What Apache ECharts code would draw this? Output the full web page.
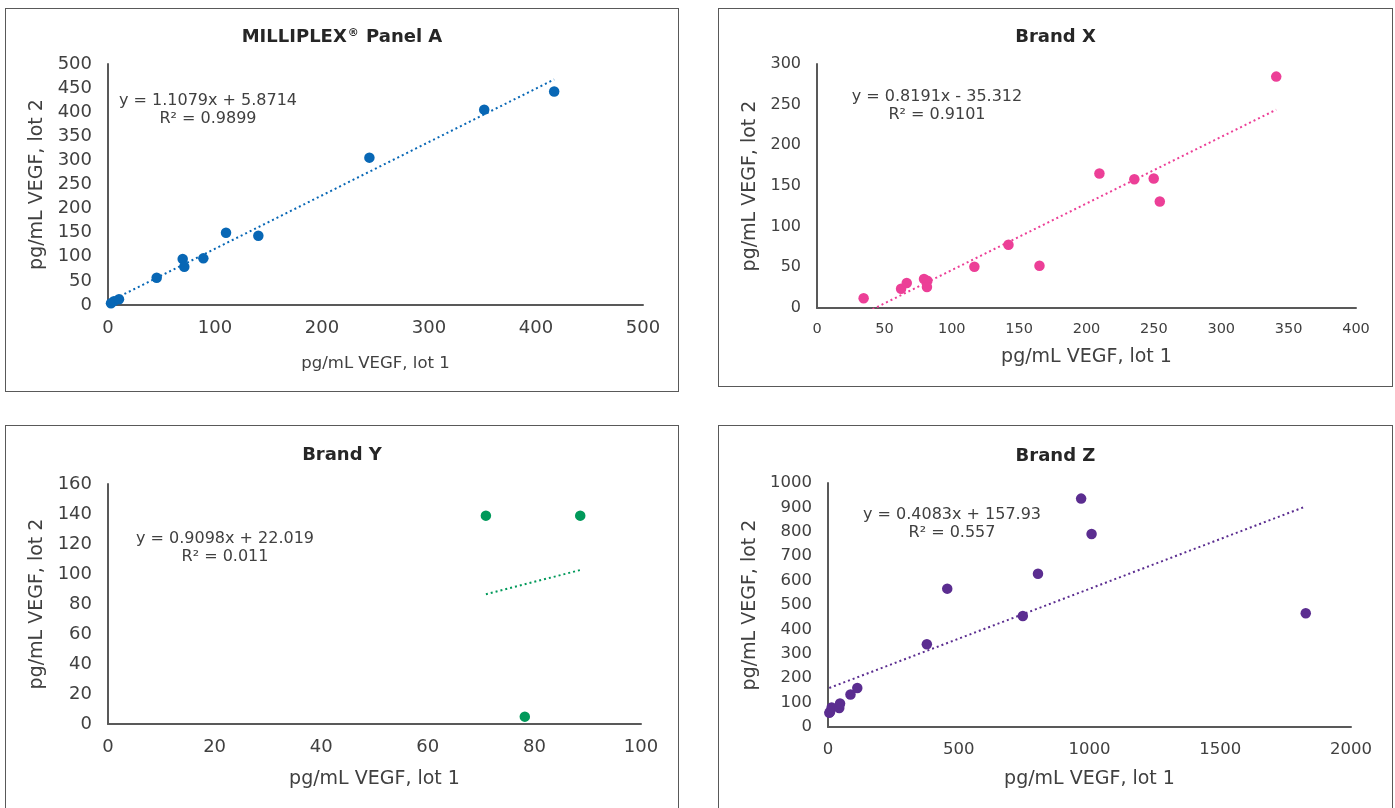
<!DOCTYPE html>
<html>
<head>
<meta charset="utf-8">
<script src="https://cdn.jsdelivr.net/npm/echarts@6/dist/echarts.min.js"></script>
<style>
  html, body { margin: 0; padding: 0; background: #fff; width: 1395px; height: 808px; overflow: hidden; }
  .panel { position: absolute; box-sizing: border-box; border: 1px solid #595959; background: #fff; }
</style>
</head>
<body>
<div id="pA" class="panel" style="left:5px;top:8px;width:674px;height:384px"></div>
<div id="pX" class="panel" style="left:718px;top:8px;width:675px;height:379px"></div>
<div id="pY" class="panel" style="left:5px;top:425px;width:674px;height:400px"></div>
<div id="pZ" class="panel" style="left:718px;top:425px;width:675px;height:400px"></div>
<script>
// lot 1 vs lot 2 readings, pg/mL VEGF
const panelALot1 = [2.8, 5.6, 10.3, 45.5, 69.8, 71.3, 89.1, 110.3, 140.5, 244.3, 351.6, 417];
const panelALot2 = [3.5, 8, 11.8, 56.6, 95.4, 79.5, 96.8, 150, 143.8, 305.7, 405.3, 442.9];
const brandXLot1 = [34.6, 62.4, 66.6, 79.4, 81.9, 81.6, 116.8, 142.1, 165.1, 209.6, 235.5, 249.9, 254.4, 340.8];
const brandXLot2 = [11.9, 23.7, 30.7, 35.6, 33.6, 25.8, 50.8, 77.8, 52, 165.4, 158.4, 159.2, 131, 284.5];
const brandYLot1 = [70.9, 78.2, 88.6];
const brandYLot2 = [138.9, 4.9, 138.9];
const brandZLot1 = [5, 8, 14, 43, 46, 86, 112, 378, 456, 745, 803, 968, 1008, 1827];
const brandZLot2 = [58, 62, 80, 78, 96, 133, 160, 339, 567, 455, 628, 936, 791, 466];

// linear trend lines as printed on the charts
const trendSlope = [1.1079, 0.8191, 0.9098, 0.4083];
const trendIntercept = [5.8714, -35.312, 22.019, 157.93];
const equationText = ['y = 1.1079x + 5.8714', 'y = 0.8191x - 35.312', 'y = 0.9098x + 22.019', 'y = 0.4083x + 157.93'];
const r2Text = ['R² = 0.9899', 'R² = 0.9101', 'R² = 0.011', 'R² = 0.557'];

const xMax = [500, 400, 100, 2000];
const xStep = [100, 50, 20, 500];
const yMax = [500, 300, 160, 1000];
const yStep = [50, 50, 20, 100];

const FONT = '"DejaVu Sans", Verdana, sans-serif';
const TXT = '#404040';

const panels = [
  { id: 'pA', x: panelALot1, y: panelALot2, color: '#0867b5', title: '{t|MILLIPLEX}{s|®}{t| Panel A}',
    grid: { left: 102, top: 55, width: 535, height: 241 }, titleTop: 14,
    tick: [18, 18], name: [16.5, 19], gap: [50, 57], eq: [202, 101] },
  { id: 'pX', x: brandXLot1, y: brandXLot2, color: '#ec3f97', title: '{t|Brand X}',
    grid: { left: 98, top: 55, width: 539, height: 244 }, titleTop: 14,
    tick: [14.5, 16], name: [19, 19], gap: [40, 48], eq: [218, 97] },
  { id: 'pY', x: brandYLot1, y: brandYLot2, color: '#00995a', title: '{t|Brand Y}',
    grid: { left: 102, top: 58, width: 533, height: 240 }, titleTop: 15,
    tick: [18, 18], name: [19, 19], gap: [46, 52], eq: [219, 122] },
  { id: 'pZ', x: brandZLot1, y: brandZLot2, color: '#5b2d90', title: '{t|Brand Z}',
    grid: { left: 109, top: 57, width: 523, height: 244 }, titleTop: 16,
    tick: [16.5, 16.5], name: [19, 19], gap: [43, 59], eq: [233, 98] }
];

panels.forEach((p, i) => {
  const chart = echarts.init(document.getElementById(p.id));
  const pts = p.x.map((v, k) => [v, p.y[k]]);
  const lo = Math.min(...p.x), hi = Math.max(...p.x);
  const trend = [lo, hi].map(v => [v, trendSlope[i] * v + trendIntercept[i]]);

  const axisCommon = {
    type: 'value',
    min: 0,
    axisLine: { show: true, onZero: false, lineStyle: { color: '#595959', width: 2 } },
    axisTick: { show: false },
    splitLine: { show: false },
    nameLocation: 'middle'
  };
  const plain = v => String(v); // no thousands separator, like Excel

  chart.setOption({
    animation: false,
    title: {
      text: p.title,
      left: 'center',
      top: p.titleTop,
      textStyle: {
        rich: {
          t: { fontFamily: FONT, fontSize: 18, fontWeight: 'bold', color: '#262626' },
          s: { fontFamily: FONT, fontSize: 11, color: '#262626', verticalAlign: 'top', padding: [0, 1, 8, 1] }
        }
      }
    },
    grid: p.grid,
    xAxis: Object.assign({}, axisCommon, {
      max: xMax[i],
      interval: xStep[i],
      name: 'pg/mL VEGF, lot 1',
      nameGap: p.gap[0],
      nameTextStyle: { fontFamily: FONT, fontSize: p.name[0], color: TXT },
      axisLabel: { fontFamily: FONT, fontSize: p.tick[0], color: TXT, margin: 14, formatter: plain }
    }),
    yAxis: Object.assign({}, axisCommon, {
      max: yMax[i],
      interval: yStep[i],
      name: 'pg/mL VEGF, lot 2',
      nameGap: p.gap[1],
      nameTextStyle: { fontFamily: FONT, fontSize: p.name[1], color: TXT },
      axisLabel: { fontFamily: FONT, fontSize: p.tick[1], color: TXT, margin: 16, formatter: plain }
    }),
    graphic: [{
      type: 'text',
      x: p.eq[0],
      y: p.eq[1],
      style: {
        text: equationText[i] + '\n' + r2Text[i],
        align: 'center',
        verticalAlign: 'middle',
        fontFamily: FONT,
        fontSize: 16,
        lineHeight: 18.5,
        fill: TXT
      }
    }],
    series: [
      {
        type: 'line',
        data: trend,
        showSymbol: false,
        clip: true,
        lineStyle: { color: p.color, width: 2, type: [2, 3] },
        z: 1
      },
      {
        type: 'scatter',
        data: pts,
        symbolSize: 10.5,
        itemStyle: { color: p.color, opacity: 1 },
        z: 2
      }
    ]
  });
});
</script>
</body>
</html>
